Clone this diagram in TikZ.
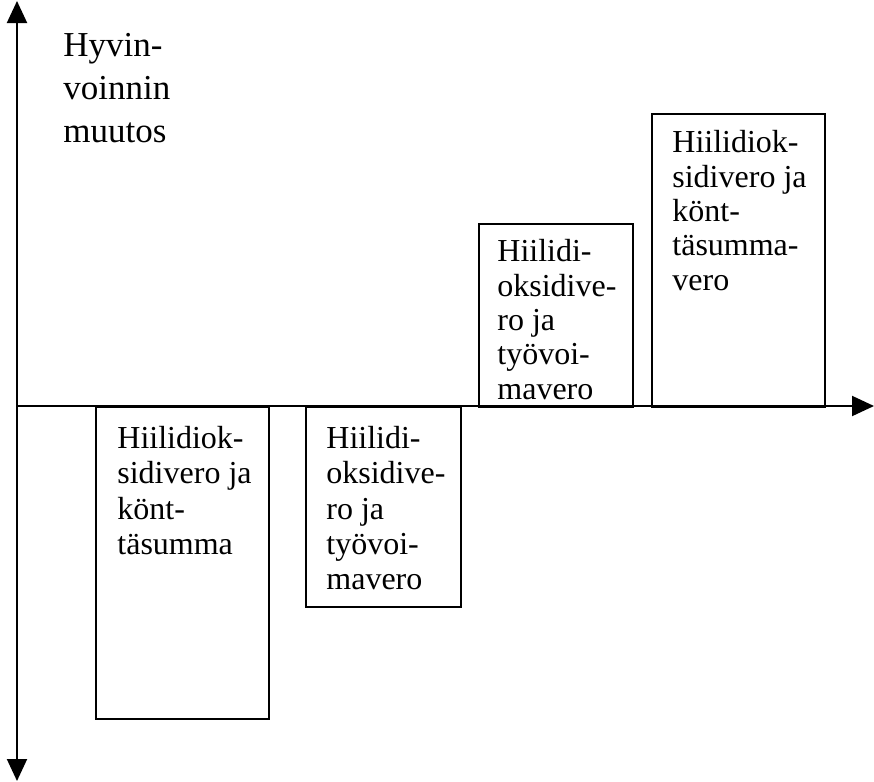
\documentclass[tikz,border=0pt]{standalone}
\usepackage{fontspec}
\setmainfont{Liberation Serif}
\usetikzlibrary{positioning,arrows.meta}

\begin{document}
\begin{tikzpicture}[x=0.5pt,y=-0.5pt,
    bar/.style={draw, line width=1pt, inner sep=0pt, anchor=north west},
    bartext/.style={align=left, inner sep=0pt, anchor=north west, font=\fontsize{16}{17.6}\selectfont},
    axis/.style={line width=1pt, -{Triangle[width=10pt,length=11pt]}}
]
    \useasboundingbox (0,0) rectangle (874,782);
    % axes
    \coordinate (bottom) at (17,781);
    \coordinate (top) at (17,1);
    \coordinate (origin) at (17,406);
    \coordinate (right) at (874,406);
    \draw[axis, {Triangle[width=10pt,length=11pt]}-{Triangle[width=10pt,length=11pt]}] (bottom) -- (top);
    \draw[axis] (origin) -- (right);
    \node [align=left, inner sep=0pt, anchor=north west, font=\fontsize{17.5}{21.5}\selectfont] (ylabel) at (63,33) {Hyvin-\\voinnin\\muutos};

    % bars
    \node [bar, minimum width=86.5pt, minimum height=156pt] (lump) at (95,406) {};
    \node [bar, minimum width=77.5pt, minimum height=100pt] (labour) at (305,406) {};
    \node [bar, minimum width=77pt, minimum height=91.5pt] (labourup) at (478,223) {};
    \node [bar, minimum width=86.5pt, minimum height=146.5pt] (lumpup) at (651,113) {};

    \node [bartext] (lumptext) at ([shift={(11pt,-10pt)}]lump.north west) {Hiilidiok-\\sidivero ja\\könt-\\täsumma};
    \node [bartext] (labourtext) at ([shift={(10.5pt,-10pt)}]labour.north west) {Hiilidi-\\oksidive-\\ro ja\\työvoi-\\mavero};
    \node [bartext, font=\fontsize{16}{17.2}\selectfont] (labouruptext) at ([shift={(9.5pt,-8pt)}]labourup.north west) {Hiilidi-\\oksidive-\\ro ja\\työvoi-\\mavero};
    \node [bartext, font=\fontsize{16}{17.2}\selectfont] (lumpuptext) at ([shift={(10.5pt,-8.5pt)}]lumpup.north west) {Hiilidiok-\\sidivero ja\\könt-\\täsumma-\\vero};
\end{tikzpicture}
\end{document}
